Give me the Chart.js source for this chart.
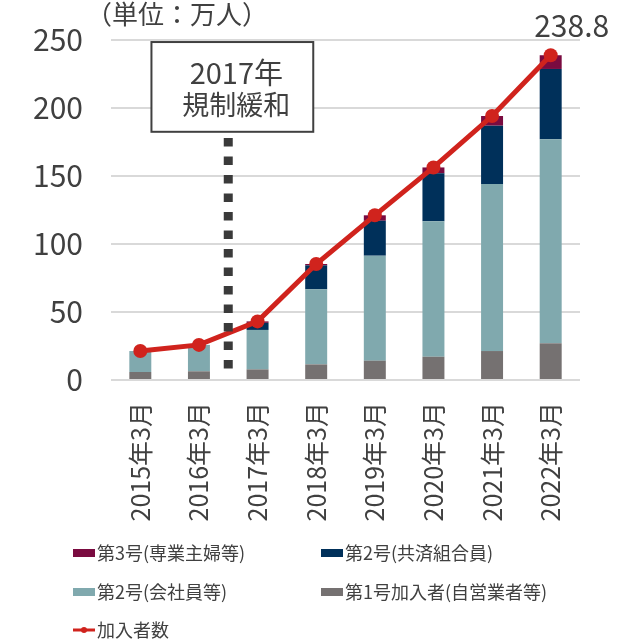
<!DOCTYPE html>
<html><head><meta charset="utf-8">
<script src="https://cdn.jsdelivr.net/npm/chart.js@4.4.0/dist/chart.umd.min.js"></script>
<style>html,body{margin:0;padding:0;background:#fff;}#wrap{width:640px;height:642px;position:relative;}</style>
</head><body><div id="wrap"><canvas id="c" width="640" height="642"></canvas></div>
<script>
const categories = ['2015年3月','2016年3月','2017年3月','2018年3月','2019年3月','2020年3月','2021年3月','2022年3月'];
const dai1 = [5.9, 6.4, 7.8, 11.5, 14.2, 17.1, 21.3, 27.0];
const dai2Kaisha = [15.4, 19.4, 29.0, 55.2, 77.2, 99.6, 122.8, 150.0];
const dai2Kyosai = [0, 0, 5.2, 17.6, 25.7, 35.3, 42.9, 51.7];
const dai3 = [0, 0, 1.1, 1.0, 4.0, 4.3, 7.1, 10.1];
const totals = [21.3, 25.8, 43.1, 85.3, 121.1, 156.3, 194.1, 238.8];
const yTicks = [0, 50, 100, 150, 200, 250];
const unitLabel = '（単位：万人）';
const noteLines = ['2017年', '規制緩和'];
const notePos = 1.5;          // category position of the deregulation marker
const noteBox = {x0: 0.19, x1: 2.95, yTop: 248.5, yBottom: 182.5};
const noteLine = {yTop: 178, yBottom: 6};
const lastLabel = '238.8';

const FONT = "'Noto Sans CJK JP','Noto Sans',sans-serif";
const TXT = '#404040';
Chart.defaults.font.family = FONT;
Chart.defaults.color = TXT;

const colors = {dai1:'#757171', kaisha:'#80A9AE', kyosai:'#00305A', dai3:'#7A0B40', line:'#D0231D'};

const legendOrder = [3, 2, 1, 0, 4];
const legendGrid = [[73,553],[321,553],[73,592],[321,592],[73,630]];

const custom = {
  id: 'custom',
  afterDatasetsDraw(chart) {
    const {ctx, scales:{x, y}} = chart;
    const lx = x.getPixelForValue(notePos);
    ctx.save();
    ctx.strokeStyle = '#3a3a3a';
    ctx.lineWidth = 9;
    ctx.setLineDash([8.5, 10]);
    ctx.beginPath();
    ctx.moveTo(lx, y.getPixelForValue(noteLine.yTop));
    ctx.lineTo(lx, y.getPixelForValue(noteLine.yBottom));
    ctx.stroke();
    ctx.setLineDash([]);
    const bx0 = x.getPixelForValue(noteBox.x0), bx1 = x.getPixelForValue(noteBox.x1);
    const by0 = y.getPixelForValue(noteBox.yTop), by1 = y.getPixelForValue(noteBox.yBottom);
    ctx.fillStyle = '#fff';
    ctx.fillRect(bx0, by0, bx1 - bx0, by1 - by0);
    ctx.strokeStyle = '#404040';
    ctx.lineWidth = 2;
    ctx.strokeRect(bx0, by0, bx1 - bx0, by1 - by0);
    ctx.fillStyle = TXT;
    ctx.textAlign = 'center';
    ctx.textBaseline = 'middle';
    const cx = (bx0 + bx1) / 2 + 4;
    ctx.font = "29px " + FONT;
    ctx.fillText(noteLines[0], cx, by0 + 31);
    ctx.font = "27px " + FONT;
    ctx.fillText(noteLines[1], cx, by0 + 63);
    const lineMeta = chart.getDatasetMeta(4);
    const pt = lineMeta.data[lineMeta.data.length - 1];
    ctx.font = "30px " + FONT;
    ctx.fillText(lastLabel, pt.x + 21, pt.y - 30);
    ctx.font = "26px " + FONT;
    ctx.textAlign = 'left';
    ctx.fillText(unitLabel, 86, 14);
    ctx.font = "18px " + FONT;
    legendOrder.forEach((di, i) => {
      const ds = chart.data.datasets[di];
      const [lx0, ly] = legendGrid[i];
      if (ds.type === 'line') {
        ctx.strokeStyle = ds.borderColor;
        ctx.lineWidth = 3;
        ctx.beginPath(); ctx.moveTo(lx0, ly); ctx.lineTo(lx0 + 22, ly); ctx.stroke();
        ctx.fillStyle = ds.borderColor;
        ctx.beginPath(); ctx.arc(lx0 + 11, ly, 3, 0, Math.PI * 2); ctx.fill();
      } else {
        ctx.fillStyle = ds.backgroundColor;
        ctx.fillRect(lx0, ly - 4, 22, 8);
      }
      ctx.fillStyle = TXT;
      ctx.textAlign = 'left';
      ctx.fillText(ds.label, lx0 + 24, ly);
    });
    ctx.restore();
  }
};

new Chart(document.getElementById('c'), {
  data: {
    labels: categories,
    datasets: [
      {type:'bar', label:'第1号加入者(自営業者等)', data: dai1, backgroundColor: colors.dai1, stack:'s', order: 2},
      {type:'bar', label:'第2号(会社員等)', data: dai2Kaisha, backgroundColor: colors.kaisha, stack:'s', order: 2},
      {type:'bar', label:'第2号(共済組合員)', data: dai2Kyosai, backgroundColor: colors.kyosai, stack:'s', order: 2},
      {type:'bar', label:'第3号(専業主婦等)', data: dai3, backgroundColor: colors.dai3, stack:'s', order: 2},
      {type:'line', label:'加入者数', data: totals, borderColor: colors.line, backgroundColor: colors.line,
       borderWidth: 5, pointRadius: 7, pointHoverRadius: 7, pointBorderWidth: 0, pointBackgroundColor: colors.line,
       tension: 0, stack:'line', order: 0}
    ]
  },
  options: {
    responsive: false,
    maintainAspectRatio: false,
    animation: false,
    events: [],
    layout: {padding: {top: 40, right: 60, left: 0, bottom: 0}},
    datasets: {bar: {barPercentage: 0.375, categoryPercentage: 1}},
    plugins: {legend: {display: false}, tooltip: {enabled: false}},
    scales: {
      x: {
        stacked: true,
        grid: {display: false, drawTicks: false},
        border: {display: false},
        ticks: {maxRotation: 90, minRotation: 90, padding: 22, font: {size: 25}, color: TXT},
        afterFit(s) { s.height = 262; s.paddingLeft = 0; s.paddingRight = 0; }
      },
      y: {
        stacked: true,
        min: 0, max: 250,
        afterBuildTicks(s) { s.ticks = yTicks.map(v => ({value: v})); },
        grid: {color: '#d9d9d9', lineWidth: 2, drawTicks: false},
        border: {display: false},
        ticks: {padding: 28, font: {size: 30}, color: TXT},
        afterFit(s) { s.width = 111; s.paddingTop = 0; s.paddingBottom = 0; }
      }
    }
  },
  plugins: [custom]
});
</script></body></html>
